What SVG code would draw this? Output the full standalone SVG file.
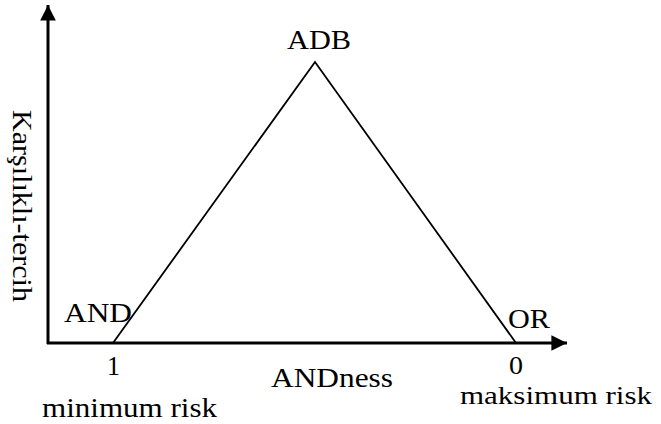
<svg xmlns="http://www.w3.org/2000/svg" width="661" height="424" viewBox="0 0 661 424">
  <defs>
    <marker id="arrow" viewBox="0 0 10 10" refX="10" refY="5" markerWidth="6" markerHeight="5.2" markerUnits="strokeWidth" orient="auto">
      <path d="M0,0 L10,5 L0,10 Z" fill="#000"/>
    </marker>
  </defs>

  <!-- axes -->
  <g id="connectors" stroke="#000" stroke-width="3" fill="none">
    <line x1="48" y1="344" x2="48" y2="5" marker-end="url(#arrow)"/>
    <line x1="47" y1="343" x2="567" y2="343" marker-end="url(#arrow)"/>
  </g>

  <!-- triangle of operators -->
  <g id="triangle">
    <polyline points="113,343 315,62 516,343" stroke="#000" stroke-width="1.8" fill="none"/>
  </g>

  <g font-family="'Liberation Serif', 'DejaVu Serif', 'Noto Serif', serif" font-size="28" fill="#000">
    <g id="apex">
      <text x="287" y="49" textLength="64" lengthAdjust="spacingAndGlyphs">ADB</text>
    </g>
    <g id="and-node">
      <text x="64" y="322" textLength="68" lengthAdjust="spacingAndGlyphs">AND</text>
      <text x="107" y="375" textLength="13" lengthAdjust="spacingAndGlyphs">1</text>
      <text x="42" y="417" textLength="175" lengthAdjust="spacingAndGlyphs">minimum risk</text>
    </g>
    <g id="or-node">
      <text x="508" y="328" textLength="42" lengthAdjust="spacingAndGlyphs">OR</text>
      <text x="509" y="374" font-size="26" textLength="14" lengthAdjust="spacingAndGlyphs">0</text>
      <text x="460" y="404" font-size="26" textLength="192" lengthAdjust="spacingAndGlyphs">maksimum risk</text>
    </g>
    <g id="x-label">
      <text x="271" y="387" textLength="122" lengthAdjust="spacingAndGlyphs">ANDness</text>
    </g>
    <g id="y-label">
      <text transform="translate(13,110) rotate(90)" textLength="192" lengthAdjust="spacingAndGlyphs">Karşılıklı-tercih</text>
    </g>
  </g>
</svg>
